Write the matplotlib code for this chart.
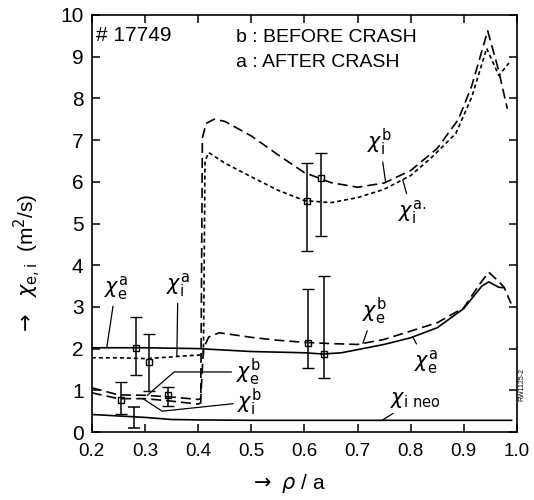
import numpy as np
import matplotlib.pyplot as plt

# === Profile data: chi (m^2/s) vs rho/a, shot 17749 ===
rho_ib = [0.20, 0.25, 0.30, 0.35, 0.40, 0.405, 0.408, 0.415, 0.43, 0.45, 0.50, 0.55,
          0.60, 0.65, 0.70, 0.75, 0.80, 0.85, 0.89, 0.915, 0.945, 0.965, 0.982]
chi_ib = [0.94, 0.80, 0.80, 0.74, 0.67, 0.70, 7.05, 7.40, 7.50, 7.45, 7.10, 6.65,
          6.22, 5.98, 5.87, 5.97, 6.27, 6.80, 7.50, 8.30, 9.62, 8.70, 7.75]

rho_ia = [0.20, 0.25, 0.30, 0.35, 0.38, 0.41, 0.413, 0.42, 0.45, 0.50, 0.55, 0.60,
          0.65, 0.70, 0.75, 0.80, 0.84, 0.885, 0.915, 0.943, 0.966, 0.985]
chi_ia = [1.78, 1.78, 1.76, 1.80, 1.83, 1.85, 6.50, 6.70, 6.45, 6.12, 5.80, 5.55,
          5.50, 5.62, 5.82, 6.15, 6.59, 7.16, 8.03, 9.20, 8.55, 8.85]

rho_eb = [0.20, 0.25, 0.30, 0.35, 0.40, 0.405, 0.41, 0.42, 0.44, 0.50, 0.55, 0.60,
          0.65, 0.70, 0.75, 0.80, 0.85, 0.90, 0.93, 0.947, 0.965, 0.976, 0.989]
chi_eb = [1.06, 0.89, 0.88, 0.84, 0.78, 0.80, 2.00, 2.28, 2.38, 2.27, 2.20, 2.15,
          2.12, 2.10, 2.22, 2.42, 2.62, 2.98, 3.55, 3.83, 3.62, 3.47, 3.08]

rho_ea = [0.20, 0.30, 0.40, 0.50, 0.60, 0.635, 0.67, 0.75, 0.80, 0.85, 0.90, 0.934,
          0.947, 0.966, 0.976]
chi_ea = [2.02, 2.02, 2.00, 1.93, 1.90, 1.87, 1.90, 2.10, 2.26, 2.50, 2.96, 3.50,
          3.60, 3.47, 3.46]

rho_neo = [0.20, 0.30, 0.35, 0.40, 0.50, 0.60, 0.70, 0.80, 0.90, 0.99]
chi_neo = [0.42, 0.35, 0.30, 0.29, 0.28, 0.28, 0.28, 0.28, 0.28, 0.28]

# experimental points with error bars
rho_pts = [0.254, 0.284, 0.307, 0.343, 0.604, 0.632, 0.606, 0.636]
chi_pts = [0.77, 2.02, 1.68, 0.89, 5.55, 6.08, 2.14, 1.88]
chi_lo = [0.43, 1.37, 0.98, 0.62, 4.35, 4.69, 1.54, 1.30]
chi_hi = [1.20, 2.75, 2.35, 1.08, 6.44, 6.68, 3.44, 3.75]

# bar without a point (neoclassical range)
rho_bar = [0.28]
chi_bar = [0.35]
bar_lo = [0.10]
bar_hi = [0.60]

x_ticks = [0.2, 0.3, 0.4, 0.5, 0.6, 0.7, 0.8, 0.9, 1.0]
x_labels = ['0.2', '0.3', '0.4', '0.5', '0.6', '0.7', '0.8', '0.9', '1.0']
y_ticks = list(range(0, 11))

plt.rcParams['font.family'] = ['Liberation Sans', 'DejaVu Sans']
plt.rcParams['mathtext.fontset'] = 'dejavusans'

fig = plt.figure(figsize=(5.34, 5.0), dpi=100)
ax = fig.add_axes([0.172, 0.136, 0.796, 0.834])

LONG = (6, 3)
SHORT = (2.4, 1.8)
curves = {
    'ib': (rho_ib, chi_ib, LONG),
    'ia': (rho_ia, chi_ia, SHORT),
    'eb': (rho_eb, chi_eb, LONG),
    'ea': (rho_ea, chi_ea, None),
    'neo': (rho_neo, chi_neo, None),
}
for key, (r, c, dash) in curves.items():
    line, = ax.plot(r, c, color='k', lw=1.2)
    if dash:
        line.set_dashes(dash)

# === Error bars ===
pts = np.array(chi_pts)
ax.errorbar(rho_pts, pts, yerr=[pts - np.array(chi_lo), np.array(chi_hi) - pts],
            fmt='s', ms=5, mfc='none', mec='k', mew=1, ecolor='k', elinewidth=1.1,
            capsize=4.5, capthick=1.1)
bar = np.array(chi_bar)
ax.errorbar(rho_bar, bar, yerr=[bar - np.array(bar_lo), np.array(bar_hi) - bar],
            fmt='none', ecolor='k', elinewidth=1.1, capsize=4.5, capthick=1.1)

# === Curve labels with leader lines ===
labels = [
    (r'$\chi_\mathrm{i}^\mathrm{b}$', 0.742, 6.95, 'ib', 0.753, 'arc3'),
    (r'$\chi_\mathrm{i}^\mathrm{a.}$', 0.802, 5.28, 'ia', 0.785, 'arc3'),
    (r'$\chi_\mathrm{e}^\mathrm{b}$', 0.731, 2.90, 'eb', 0.710, 'arc3'),
    (r'$\chi_\mathrm{e}^\mathrm{a}$', 0.829, 1.68, 'ea', 0.804, 'arc3'),
    (r'$\chi_\mathrm{i\ neo}$', 0.808, 0.77, 'neo', 0.746, 'arc3'),
    (r'$\chi_\mathrm{e}^\mathrm{a}$', 0.245, 3.45, 'ea', 0.228, 'arc3'),
    (r'$\chi_\mathrm{i}^\mathrm{a}$', 0.362, 3.52, 'ia', 0.360, 'arc3'),
    (r'$\chi_\mathrm{e}^\mathrm{b}$', 0.494, 1.44, 'eb', 0.304,
     'angle,angleA=0,angleB=41,rad=0'),
    (r'$\chi_\mathrm{i}^\mathrm{b}$', 0.497, 0.72, 'ib', 0.296,
     'angle,angleA=6,angleB=147,rad=0'),
]
for text, tx, ty, key, xr, conn in labels:
    r, c, _ = curves[key]
    ax.annotate(text, xy=(xr, np.interp(xr, r, c)), xytext=(tx, ty),
                ha='center', va='center', fontsize=15,
                arrowprops=dict(arrowstyle='-', color='k', lw=0.9,
                                shrinkA=1, shrinkB=0, connectionstyle=conn))

# === Header text ===
ax.text(0.2075, 9.52, '# 17749', fontsize=15, ha='left', va='center')
ax.text(0.471, 9.47, 'b : BEFORE CRASH', fontsize=14, ha='left', va='center')
ax.text(0.471, 8.87, 'a : AFTER CRASH', fontsize=14, ha='left', va='center')
ax.text(1.009, 1.13, 'RW1125-2', fontsize=5, rotation=90, ha='center', va='center',
        clip_on=False)

# === Axes styling ===
ax.set_xlim(0.2, 1.0)
ax.set_ylim(0, 10)
ax.set_xticks(x_ticks)
ax.set_xticklabels(x_labels)
ax.set_yticks(y_ticks)
ax.tick_params(direction='in', top=True, right=True, length=6, width=1.1)
ax.tick_params(axis='x', labelsize=13.5, pad=8)
ax.tick_params(axis='y', labelsize=15, pad=6)
for s in ax.spines.values():
    s.set_linewidth(1.2)

ax.set_xlabel(r'$\rightarrow\ \rho$ / a', fontsize=15)
ax.xaxis.set_label_coords(0.46, -0.095)
ax.set_ylabel(r'$\rightarrow\ \ \chi_\mathrm{e,i}$  (m$^2$/s)', fontsize=15)
ax.yaxis.set_label_coords(-0.115, 0.40)

fig.savefig('out.png', dpi=100)
